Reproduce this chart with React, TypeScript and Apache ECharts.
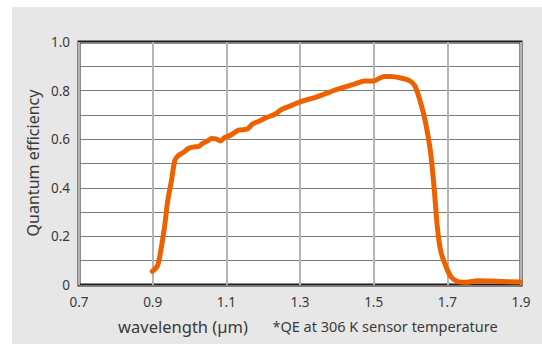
import React, { useEffect, useRef } from "react";
import * as echarts from "echarts";

const wavelength = [0.899, 0.913, 0.922, 0.932, 0.941, 0.951, 0.96, 0.969, 0.983, 0.997, 1.011, 1.026, 1.035, 1.049, 1.06, 1.072, 1.084, 1.096, 1.11, 1.133, 1.157, 1.171, 1.19, 1.209, 1.232, 1.251, 1.279, 1.302, 1.34, 1.377, 1.415, 1.448, 1.476, 1.499, 1.528, 1.546, 1.574, 1.598, 1.612, 1.626, 1.64, 1.654, 1.664, 1.673, 1.682, 1.697, 1.711, 1.729, 1.753, 1.781, 1.837, 1.898];
const qe = [0.056, 0.079, 0.141, 0.237, 0.347, 0.429, 0.511, 0.532, 0.545, 0.562, 0.568, 0.571, 0.582, 0.593, 0.603, 0.601, 0.593, 0.607, 0.615, 0.637, 0.642, 0.662, 0.675, 0.689, 0.703, 0.723, 0.74, 0.755, 0.771, 0.792, 0.812, 0.827, 0.84, 0.84, 0.858, 0.858, 0.852, 0.84, 0.819, 0.758, 0.675, 0.552, 0.401, 0.237, 0.141, 0.073, 0.032, 0.014, 0.011, 0.018, 0.015, 0.012];

const yLabel = "Quantum efficiency";
const xLabel = "wavelength (µm)";
const note = "*QE at 306 K sensor temperature";

const FONT = "Noto Sans";

export default function App() {
  const ref = useRef<HTMLDivElement>(null);
  useEffect(() => {
    if (!ref.current) return;
    const chart = echarts.init(ref.current, undefined, { renderer: "svg" });
    chart.setOption({
      animation: false,
      backgroundColor: "#ffffff",
      graphic: [
        { type: "rect", z: -10, shape: { x: 12, y: 7, width: 530, height: 337 }, style: { fill: "#e7e7e7" } },
        { type: "rect", z: -9, shape: { x: 79, y: 42, width: 442, height: 243 }, style: { fill: "#ffffff" } },
        {
          type: "text", rotation: Math.PI / 2,
          x: 33, y: 163,
          style: { text: yLabel, font: `16px "${FONT}"`, fill: "#3a3a3a", align: "center", verticalAlign: "middle" },
        },
        { type: "text", x: 183, y: 326, style: { text: xLabel, font: `16.5px "${FONT}"`, fill: "#3a3a3a", align: "center", verticalAlign: "middle" } },
        { type: "text", x: 385, y: 326, style: { text: note, font: `14.5px "${FONT}"`, fill: "#3a3a3a", align: "center", verticalAlign: "middle" } },
      ],
      grid: { left: 79, top: 42, width: 442, height: 243, show: true, borderColor: "#231815", borderWidth: 3, backgroundColor: "transparent" },
      xAxis: {
        type: "value", min: 0.7, max: 1.9, interval: 0.2,
        axisLine: { show: false }, axisTick: { show: false },
        axisLabel: { color: "#3a3a3a", fontSize: 13.5, fontFamily: FONT, margin: 10, formatter: (v: number) => v.toFixed(1) },
        splitLine: { show: true, lineStyle: { color: "#b4b4b4", width: 2 } },
      },
      yAxis: {
        type: "value", min: 0, max: 1, interval: 0.1,
        axisLine: { show: false }, axisTick: { show: false },
        axisLabel: {
          color: "#3a3a3a", fontSize: 13.5, fontFamily: FONT, margin: 9,
          formatter: (v: number) => {
            const k = Math.round(v * 10);
            if (k % 2 !== 0) return "";
            return k === 0 ? "0" : (k / 10).toFixed(1);
          },
        },
        splitLine: { show: true, lineStyle: { color: "#7a7a7a", width: 1 } },
      },
      series: [
        {
          type: "line", smooth: 0.3, symbol: "none",
          data: wavelength.map((x, i) => [x, qe[i]]),
          lineStyle: { color: "#ee6100", width: 5, cap: "round", join: "round" },
        },
      ],
    });
    return () => chart.dispose();
  }, []);
  return <div ref={ref} style={{ position: "fixed", left: 0, top: 0, width: 542, height: 344 }} />;
}
